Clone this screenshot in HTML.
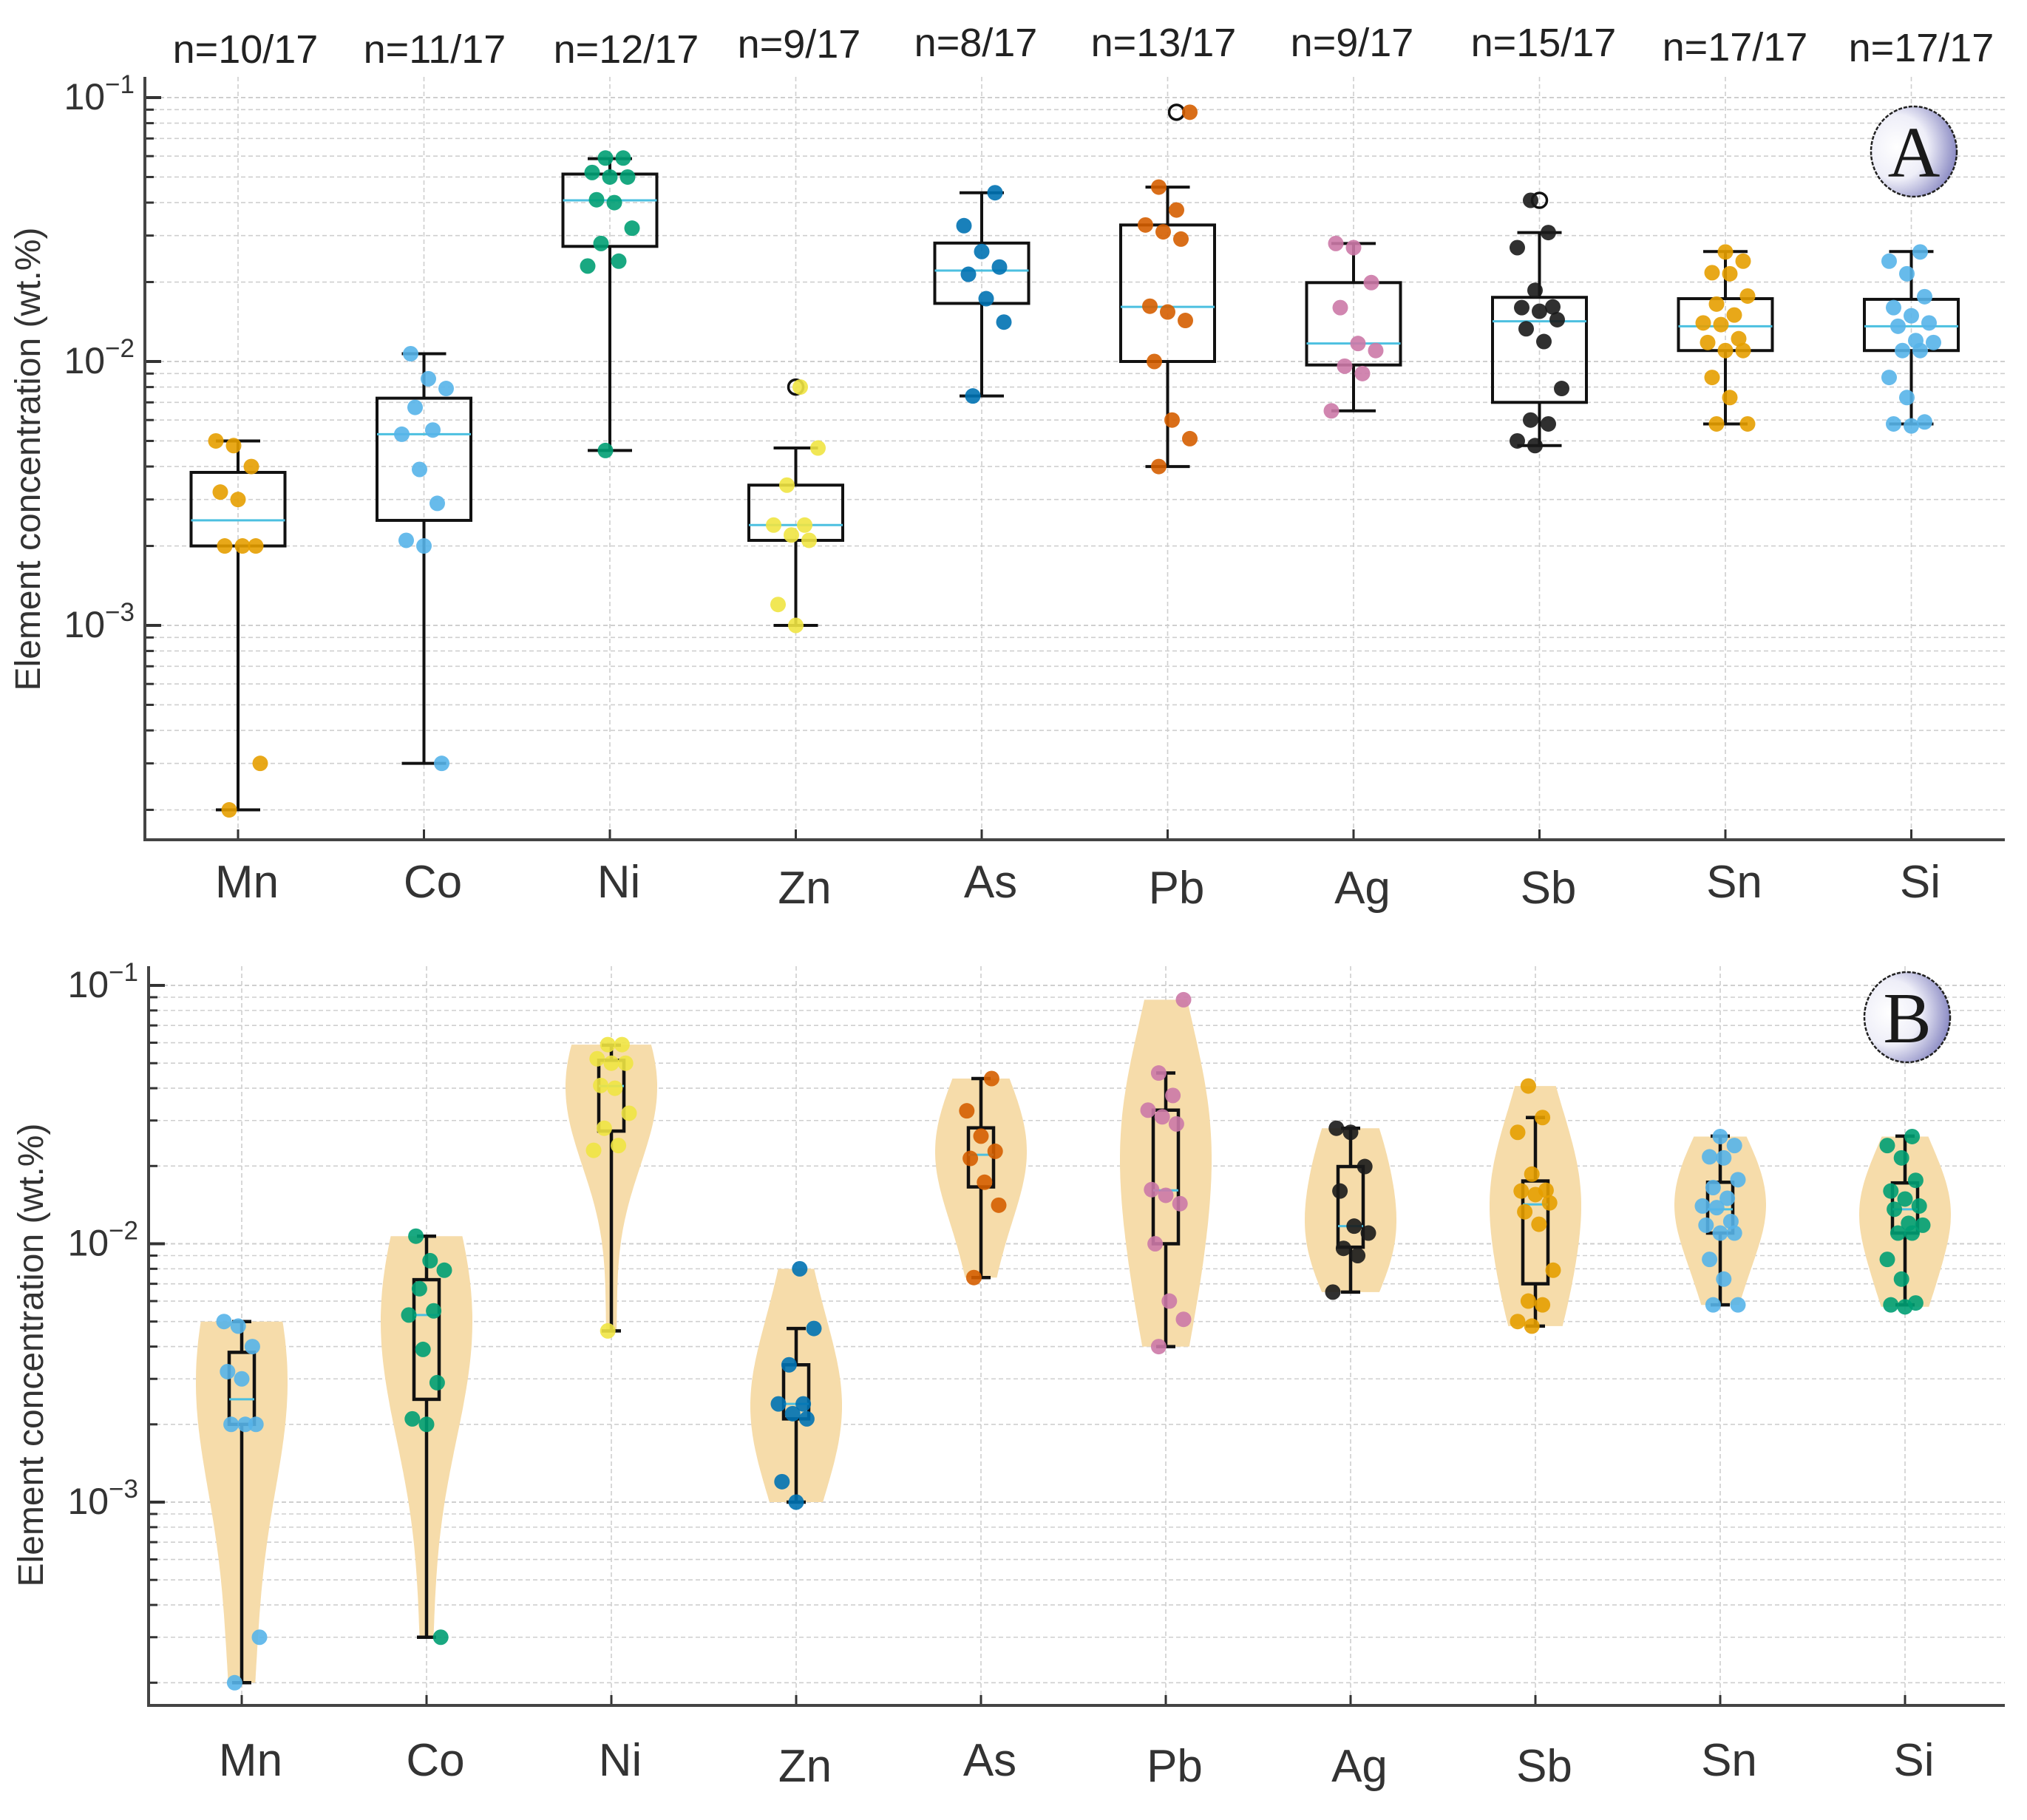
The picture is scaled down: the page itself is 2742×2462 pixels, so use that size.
<!DOCTYPE html>
<html><head><meta charset="utf-8">
<style>
html,body{margin:0;padding:0;background:#fff;}
svg{display:block;font-family:"Liberation Sans",sans-serif;}
</style></head>
<body>
<svg id="fig" width="2742" height="2462" viewBox="0 0 2742 2462" xmlns="http://www.w3.org/2000/svg">
<defs>
<radialGradient id="badge" cx="0.3" cy="0.45" r="0.8">
<stop offset="0" stop-color="#ffffff"/><stop offset="0.45" stop-color="#eeeef8"/><stop offset="1" stop-color="#6e6eb4"/>
</radialGradient>
</defs>
</svg>
<script>
const categories=["Mn","Co","Ni","Zn","As","Pb","Ag","Sb","Sn","Si"];
const countLabels=["n=10/17","n=11/17","n=12/17","n=9/17","n=8/17","n=13/17","n=9/17","n=15/17","n=17/17","n=17/17"];
const mnVals=[0.0050,0.0048,0.0040,0.0032,0.0030,0.0020,0.0020,0.0020,0.0003,0.0002];
const coVals=[0.0107,0.0086,0.0079,0.0067,0.0055,0.0053,0.0039,0.0029,0.0021,0.0020,0.0003];
const niVals=[0.059,0.059,0.052,0.050,0.050,0.041,0.040,0.032,0.028,0.024,0.023,0.0046];
const znVals=[0.0080,0.0047,0.0034,0.0024,0.0024,0.0022,0.0021,0.0012,0.0010];
const asVals=[0.0436,0.0327,0.0261,0.0228,0.0214,0.0173,0.0141,0.0074];
const pbVals=[0.088,0.0458,0.0375,0.0329,0.031,0.0291,0.0162,0.0154,0.0143,0.0100,0.0060,0.0051,0.0040];
const agVals=[0.028,0.027,0.0199,0.016,0.0117,0.0110,0.0096,0.0090,0.0065];
const sbVals=[0.0408,0.0308,0.0270,0.0186,0.0161,0.0160,0.0155,0.0144,0.0133,0.0119,0.0079,0.0060,0.0058,0.0050,0.0048];
const snVals=[0.026,0.024,0.0217,0.0215,0.0177,0.0165,0.0150,0.0140,0.0138,0.0122,0.0118,0.0110,0.0110,0.0087,0.0073,0.0058,0.0058];
const siVals=[0.026,0.024,0.0215,0.0176,0.0160,0.0149,0.0140,0.0136,0.0120,0.0118,0.0110,0.0110,0.0087,0.0073,0.0059,0.0058,0.0057];
const q1=[0.0020,0.0025,0.0273,0.0021,0.0166,0.0100,0.0097,0.0070,0.0110,0.0110];
const medians=[0.0025,0.0053,0.0408,0.0024,0.0221,0.0161,0.0117,0.0142,0.0136,0.0136];
const q3=[0.0038,0.00726,0.0513,0.0034,0.0281,0.0329,0.0199,0.0175,0.0173,0.0172];
const whiskLo=[0.0002,0.0003,0.0046,0.0010,0.0074,0.0040,0.0065,0.0048,0.0058,0.0058];
const whiskHi=[0.0050,0.0107,0.0587,0.0047,0.0436,0.0458,0.0280,0.0308,0.0261,0.0261];
const outlierVals=[null,null,null,0.0080,null,0.088,null,0.0408,null,null];
const colorsA=["#e69f00","#56b4e9","#009e73","#f0e442","#0072b2","#d55e00","#cc79a7","#1a1a1a","#e69f00","#56b4e9"];
const colorsB=["#56b4e9","#009e73","#f0e442","#0072b2","#d55e00","#cc79a7","#1a1a1a","#e69f00","#56b4e9","#009e73"];
const allVals=[mnVals,coVals,niVals,znVals,asVals,pbVals,agVals,sbVals,snVals,siVals];
const yTickExps=[-1,-2,-3];

const NS="http://www.w3.org/2000/svg";
const svg=document.getElementById('fig');
function mk(tag,attrs,parent){const e=document.createElementNS(NS,tag);for(const k in attrs)e.setAttribute(k,attrs[k]);(parent||svg).appendChild(e);return e;}

const panels=[
 {id:'a',x0:322,dx:251.5,y2:489,dec:357,top:104,bottom:1136,left:196,right:2712,boxW:127,capW:60,colors:colorsA,violin:false,labelY:1214,nY:68,badge:[2589,205,'A'],titleY:621},
 {id:'b',x0:327,dx:250,y2:1682.5,dec:349.5,top:1307,bottom:2307,left:201,right:2712,boxW:34,capW:26,colors:colorsB,violin:true,labelY:2402,nY:null,badge:[2580,1376,'B'],titleY:1833}
];

function jit(i,j){return (((j*37+i*13)%11)-5)*6;}

panels.forEach(P=>{
  const yS=v=>P.y2-(Math.log10(v)+2)*P.dec;
  const xS=i=>P.x0+i*P.dx;
  const g=mk('g',{});
  
  
  const grid=mk('g',{},g);
  
  
  for(let e=-4;e<=-1;e++){
    for(let m=1;m<=9;m++){
      const v=m*Math.pow(10,e);const y=yS(v);
      if(y<P.top||y>P.bottom)continue;
      mk('line',{x1:P.left,x2:P.right,y1:y,y2:y,stroke:'#cfcfcf','stroke-width':m==1?2:1.6,'stroke-dasharray':'6,4'},grid);
      mk('line',{x1:P.left,x2:P.left+(m==1?22:12),y1:y,y2:y,stroke:'#333','stroke-width':m==1?4:3},grid);
    }
  }
  categories.forEach((c,i)=>{
    mk('line',{x1:xS(i),x2:xS(i),y1:P.top,y2:P.bottom,stroke:'#cfcfcf','stroke-width':1.6,'stroke-dasharray':'6,4'},grid);
    mk('line',{x1:xS(i),x2:xS(i),y1:P.bottom,y2:P.bottom-14,stroke:'#333','stroke-width':3},grid);
  });
  if(P.violin){
    allVals.forEach((vals,i)=>{
      const L=vals.map(v=>Math.log10(v));
      const n=L.length,mean=L.reduce((a,b)=>a+b,0)/n;
      const sd=Math.sqrt(L.reduce((a,b)=>a+(b-mean)**2,0)/(n-1));
      const bw=sd*Math.pow(n,-0.2)*1.45;
      const lo=Math.min(...L),hi=Math.max(...L);
      const pts=[];let mx=0;
      for(let k=0;k<=80;k++){const t=lo+(hi-lo)*k/80;let d=0;L.forEach(l=>{d+=Math.exp(-0.5*((t-l)/bw)**2);});pts.push([t,d]);if(d>mx)mx=d;}
      const half=62;
      let dstr='';
      pts.forEach((p,k)=>{const y=P.y2-(p[0]+2)*P.dec;dstr+=(k?'L':'M')+(xS(i)+half*p[1]/mx).toFixed(1)+','+y.toFixed(1);});
      for(let k=pts.length-1;k>=0;k--){const p=pts[k];const y=P.y2-(p[0]+2)*P.dec;dstr+='L'+(xS(i)-half*p[1]/mx).toFixed(1)+','+y.toFixed(1);}
      const vp=mk('path',{d:dstr+'Z',fill:'#f6dcaa',stroke:'none'},g);
      
      
    });
  }
  categories.forEach((c,i)=>{
    const bg=mk('g',{},g);
    
    
    const x=xS(i),lw=P.violin?4.5:4;
    mk('line',{x1:x,x2:x,y1:yS(whiskHi[i]),y2:yS(q3[i]),stroke:'#111','stroke-width':lw},bg);
    mk('line',{x1:x,x2:x,y1:yS(q1[i]),y2:yS(whiskLo[i]),stroke:'#111','stroke-width':lw},bg);
    mk('line',{x1:x-P.capW/2,x2:x+P.capW/2,y1:yS(whiskHi[i]),y2:yS(whiskHi[i]),stroke:'#111','stroke-width':lw},bg);
    mk('line',{x1:x-P.capW/2,x2:x+P.capW/2,y1:yS(whiskLo[i]),y2:yS(whiskLo[i]),stroke:'#111','stroke-width':lw},bg);
    mk('rect',{x:x-P.boxW/2,y:yS(q3[i]),width:P.boxW,height:yS(q1[i])-yS(q3[i]),fill:'none',stroke:'#111','stroke-width':lw},bg);
    mk('line',{x1:x-P.boxW/2,x2:x+P.boxW/2,y1:yS(medians[i]),y2:yS(medians[i]),stroke:'#4cc0e0','stroke-width':3},bg);
    if(!P.violin && outlierVals[i]!==null){
      const oc=mk('circle',{cx:x+(i==5?12:0),cy:yS(outlierVals[i]),r:10,fill:'none',stroke:'#111','stroke-width':3.5},bg);
      
      
    }
  });
  allVals.forEach((vals,i)=>{
    const pg=mk('g',{},g);
    
    
    vals.forEach((v,j)=>{
      const s=P.violin?0.8:1;
      const pt=mk('circle',{cx:xS(i)+jit(i,j)*s,cy:yS(v),r:10.5,fill:P.colors[i],'fill-opacity':0.9},pg);
      
      
    });
  });
  mk('line',{x1:P.left,x2:P.left,y1:P.top,y2:P.bottom,stroke:'#444','stroke-width':4},g);
  mk('line',{x1:P.left-2,x2:P.right,y1:P.bottom,y2:P.bottom,stroke:'#444','stroke-width':4},g);
  yTickExps.forEach(e=>{
    const t=mk('text',{x:P.left-14,y:yS(Math.pow(10,e))+16,'text-anchor':'end','font-size':50,fill:'#333'},g);
    
    
    t.textContent='10';
    const sup=mk('tspan',{dy:-22,'font-size':35},t);sup.textContent='\u2212'+(-e);
  });
  const yt=mk('text',{x:0,y:0,transform:`translate(${P.violin?58:54},${P.titleY}) rotate(-90)`,'text-anchor':'middle','font-size':48,fill:'#333'},g);
  
  
  yt.textContent='Element concentration (wt.%)';
  categories.forEach((c,i)=>{
    const tl=mk('text',{x:xS(i)+12,y:P.labelY+((i==3||i==5||i==6||i==7)?8:0),'text-anchor':'middle','font-size':62,fill:'#333'},g);
    
    
    tl.textContent=c;
  });
  if(P.nY){
    const nx=[332,588,847,1081,1320,1574,1829,2088,2347,2599];
    const ny=[85,85,85,78,76,76,76,76,82,83];
    countLabels.forEach((s,i)=>{
      const t=mk('text',{x:nx[i],y:ny[i],'text-anchor':'middle','font-size':54,fill:'#222'},g);
      
      
      t.textContent=s;
    });
  }
  const [bx,by,bl]=P.badge;
  const bgp=mk('g',{},g);
  
  
  mk('ellipse',{cx:bx,cy:by,rx:58,ry:61,fill:'url(#badge)',stroke:'#222','stroke-width':2.5,'stroke-dasharray':'5,2'},bgp);
  const bt=mk('text',{x:bx,y:by+34,'text-anchor':'middle','font-size':98,'font-family':'"Liberation Serif",serif',fill:'#1a1a1a'},bgp);
  bt.textContent=bl;
});
</script>
</body></html>
